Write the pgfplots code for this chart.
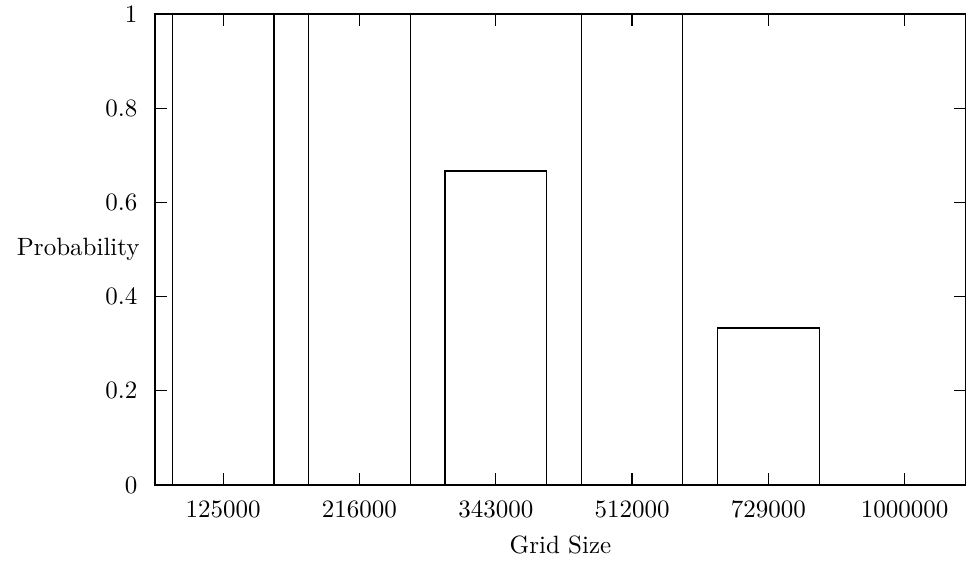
\documentclass[border=0pt]{standalone}
\usepackage{pgfplots}
\pgfplotsset{compat=1.18}
\begin{document}
\begin{tikzpicture}
\begin{axis}[
  ybar, bar width=0.745,
  scale only axis,
  width=324.4pt, height=188.4pt,
  xmin=-0.5, xmax=5.45,
  ymin=0, ymax=1,
  xtick={0,1,2,3,4,5},
  xticklabels={125000,216000,343000,512000,729000,1000000},
  ytick={0,0.2,0.4,0.6,0.8,1},
  yticklabels={0,0.2,0.4,0.6,0.8,1},
  tick align=inside,
  xtick align=inside,
  ytick align=inside,
  xtick pos=both, ytick pos=both,
  major tick length=4.8pt,
  tick style={black, line width=0.5pt},
  axis line style={line width=0.5pt},
  xticklabel style={yshift=-2.8pt},
  yticklabel style={xshift=-3.5pt},
  xlabel={Grid Size},
  xlabel style={yshift=0pt},
  ylabel={Probability},
  every axis y label/.style={at={(axis description cs:0,0.5)}, anchor=east, xshift=-2.6pt},
]
\addplot[draw=black, fill=none, line width=0.5pt] coordinates {(0,1) (1,1) (2,0.6667) (3,1) (4,0.3333) (5,0)};
\end{axis}
\pgfresetboundingbox
\path (current axis.south west) ++(-62pt,-33.2pt) coordinate (bbA);
\path (current axis.north east) ++(0pt,5.6pt) coordinate (bbB);
\useasboundingbox (bbA) rectangle (bbB);
\end{tikzpicture}
\end{document}
